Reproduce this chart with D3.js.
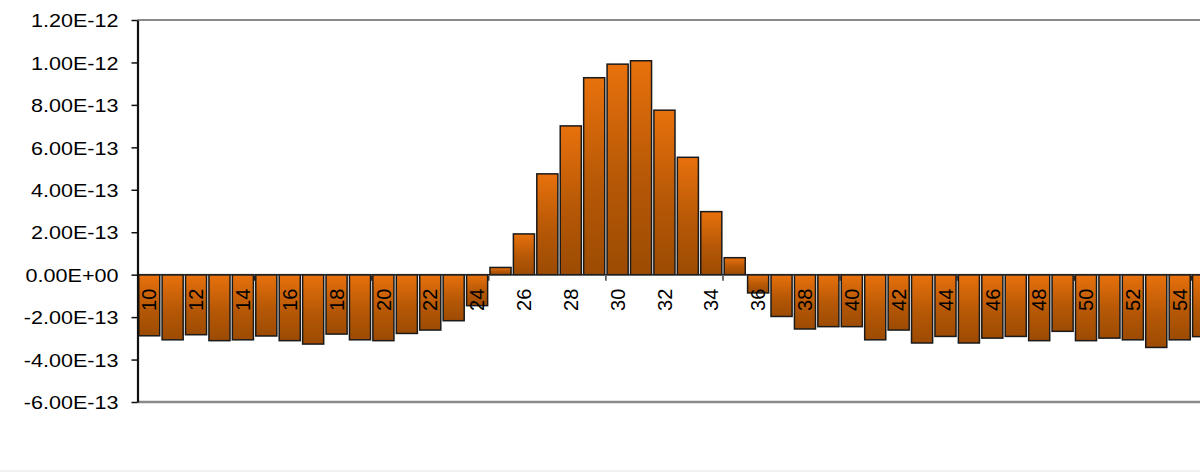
<!DOCTYPE html>
<html>
<head>
<meta charset="utf-8">
<script src="https://cdn.jsdelivr.net/npm/d3@7"></script>
<style>
  body { margin: 0; background: #fff; }
  svg { display: block; font-family: "Liberation Sans", Arial, sans-serif; }
</style>
</head>
<body>
<main></main>
<script>
// categories along the bottom (the last one runs off the right edge)
var categories = [10, 11, 12, 13, 14, 15, 16, 17, 18, 19, 20, 21, 22, 23, 24, 25, 26, 27, 28, 29,
  30, 31, 32, 33, 34, 35, 36, 37, 38, 39, 40, 41, 42, 43, 44, 45, 46, 47, 48, 49,
  50, 51, 52, 53, 54, 55];

// one value per category
var values = [-2.88e-13, -3.07e-13, -2.83e-13, -3.11e-13, -3.07e-13, -2.89e-13, -3.11e-13, -3.27e-13,
  -2.80e-13, -3.07e-13, -3.11e-13, -2.77e-13, -2.61e-13, -2.17e-13, -1.46e-13, 3.4e-14,
  1.92e-13, 4.75e-13, 7.01e-13, 9.28e-13, 9.92e-13, 1.008e-12, 7.75e-13, 5.53e-13,
  2.97e-13, 8.0e-14, -8.6e-14, -1.97e-13, -2.56e-13, -2.45e-13, -2.45e-13, -3.07e-13,
  -2.61e-13, -3.22e-13, -2.91e-13, -3.22e-13, -2.99e-13, -2.91e-13, -3.11e-13, -2.67e-13,
  -3.11e-13, -2.99e-13, -3.07e-13, -3.43e-13, -3.07e-13, -2.92e-13];

var yTicks = [-6e-13, -4e-13, -2e-13, 0, 2e-13, 4e-13, 6e-13, 8e-13, 1e-12, 1.2e-12];
var yTickLabels = ['-6.00E-13', '-4.00E-13', '-2.00E-13', '0.00E+00', '2.00E-13', '4.00E-13',
  '6.00E-13', '8.00E-13', '1.00E-12', '1.20E-12'];
var xLabelCats = [10, 12, 14, 16, 18, 20, 22, 24, 26, 28, 30, 32, 34, 36, 38, 40, 42, 44, 46, 48, 50, 52, 54];
var xTickCats = [15, 20, 25, 30, 35, 40, 45, 50, 55];

var chartW = 1200, chartH = 473;
var plotLeft = 137.5, plotTop = 20, plotBottom = 402;
var step = 23.42;
var stretch = 1.16; // y labels in the picture are a little wider than tall

var svg = d3.select('main').append('svg')
  .attr('width', chartW)
  .attr('height', chartH);

var grad = svg.append('defs').append('linearGradient')
  .attr('id', 'barFill')
  .attr('x1', 0).attr('y1', 0).attr('x2', 0).attr('y2', 1);
grad.append('stop').attr('offset', '0%').attr('stop-color', '#e8710c');
grad.append('stop').attr('offset', '55%').attr('stop-color', '#b65806');
grad.append('stop').attr('offset', '100%').attr('stop-color', '#9c4b03');

var x = d3.scaleBand()
  .domain(categories)
  .range([plotLeft, plotLeft + categories.length * step])
  .paddingInner(0.1)
  .paddingOuter(0.05);

var y = d3.scaleLinear()
  .domain([-6e-13, 1.2e-12])
  .range([plotBottom, plotTop]);

// frame lines top and bottom of the plot
svg.append('line')
  .attr('x1', plotLeft).attr('x2', chartW)
  .attr('y1', y(1.2e-12)).attr('y2', y(1.2e-12))
  .attr('stroke', '#8a8a8a').attr('stroke-width', 2.2);
svg.append('line')
  .attr('x1', plotLeft).attr('x2', chartW)
  .attr('y1', y(-6e-13)).attr('y2', y(-6e-13))
  .attr('stroke', '#8a8a8a').attr('stroke-width', 2.6);

// faint page edge at the very bottom
svg.append('line')
  .attr('x1', 0).attr('x2', chartW)
  .attr('y1', 471).attr('y2', 471)
  .attr('stroke', '#ececec').attr('stroke-width', 1.5);

// tick marks on the category axis, every 5
svg.selectAll('.xtick')
  .data(xTickCats)
  .enter().append('line')
  .attr('class', 'xtick')
  .attr('x1', d => x(d) - x.step() * x.paddingInner() / 2)
  .attr('x2', d => x(d) - x.step() * x.paddingInner() / 2)
  .attr('y1', y(0) + 1).attr('y2', y(0) + 6)
  .attr('stroke', '#222').attr('stroke-width', 1.3);

// bars
svg.selectAll('.bar')
  .data(categories)
  .enter().append('rect')
  .attr('class', 'bar')
  .attr('x', d => x(d))
  .attr('width', x.bandwidth())
  .attr('y', (d, i) => y(Math.max(0, values[i])))
  .attr('height', (d, i) => Math.abs(y(values[i]) - y(0)))
  .attr('fill', 'url(#barFill)')
  .attr('stroke', '#1a1a1a')
  .attr('stroke-width', 1.5);

// zero line
svg.append('line')
  .attr('x1', plotLeft).attr('x2', chartW)
  .attr('y1', y(0)).attr('y2', y(0))
  .attr('stroke', '#222').attr('stroke-width', 1.5);

// y axis
var yAxis = svg.append('g')
  .attr('transform', 'translate(' + plotLeft + ',0)')
  .call(d3.axisLeft(y)
    .tickValues(yTicks)
    .tickFormat((d, i) => yTickLabels[i])
    .tickSize(6)
    .tickSizeOuter(0));
yAxis.select('.domain').attr('stroke', '#111').attr('stroke-width', 2.2);
yAxis.selectAll('.tick line').attr('stroke', '#111').attr('stroke-width', 1.5);
yAxis.selectAll('.tick text')
  .attr('x', 0)
  .attr('dy', '0.36em')
  .attr('transform', 'translate(-19,0) scale(' + stretch + ',1)')
  .attr('fill', '#000')
  .style('font-size', '18.6px')
  .style('font-family', '"Liberation Sans", Arial, sans-serif');

// rotated category labels hanging under the zero line
svg.selectAll('.xlabel')
  .data(xLabelCats)
  .enter().append('text')
  .attr('class', 'xlabel')
  .attr('transform', d => 'translate(' + (x(d) + x.bandwidth() / 2) + ',' + (y(0) + 14) + ') rotate(-90)')
  .attr('text-anchor', 'end')
  .attr('dy', '0.36em')
  .style('font-size', '20px')
  .attr('fill', '#000')
  .text(d => d);
</script>
</body>
</html>
